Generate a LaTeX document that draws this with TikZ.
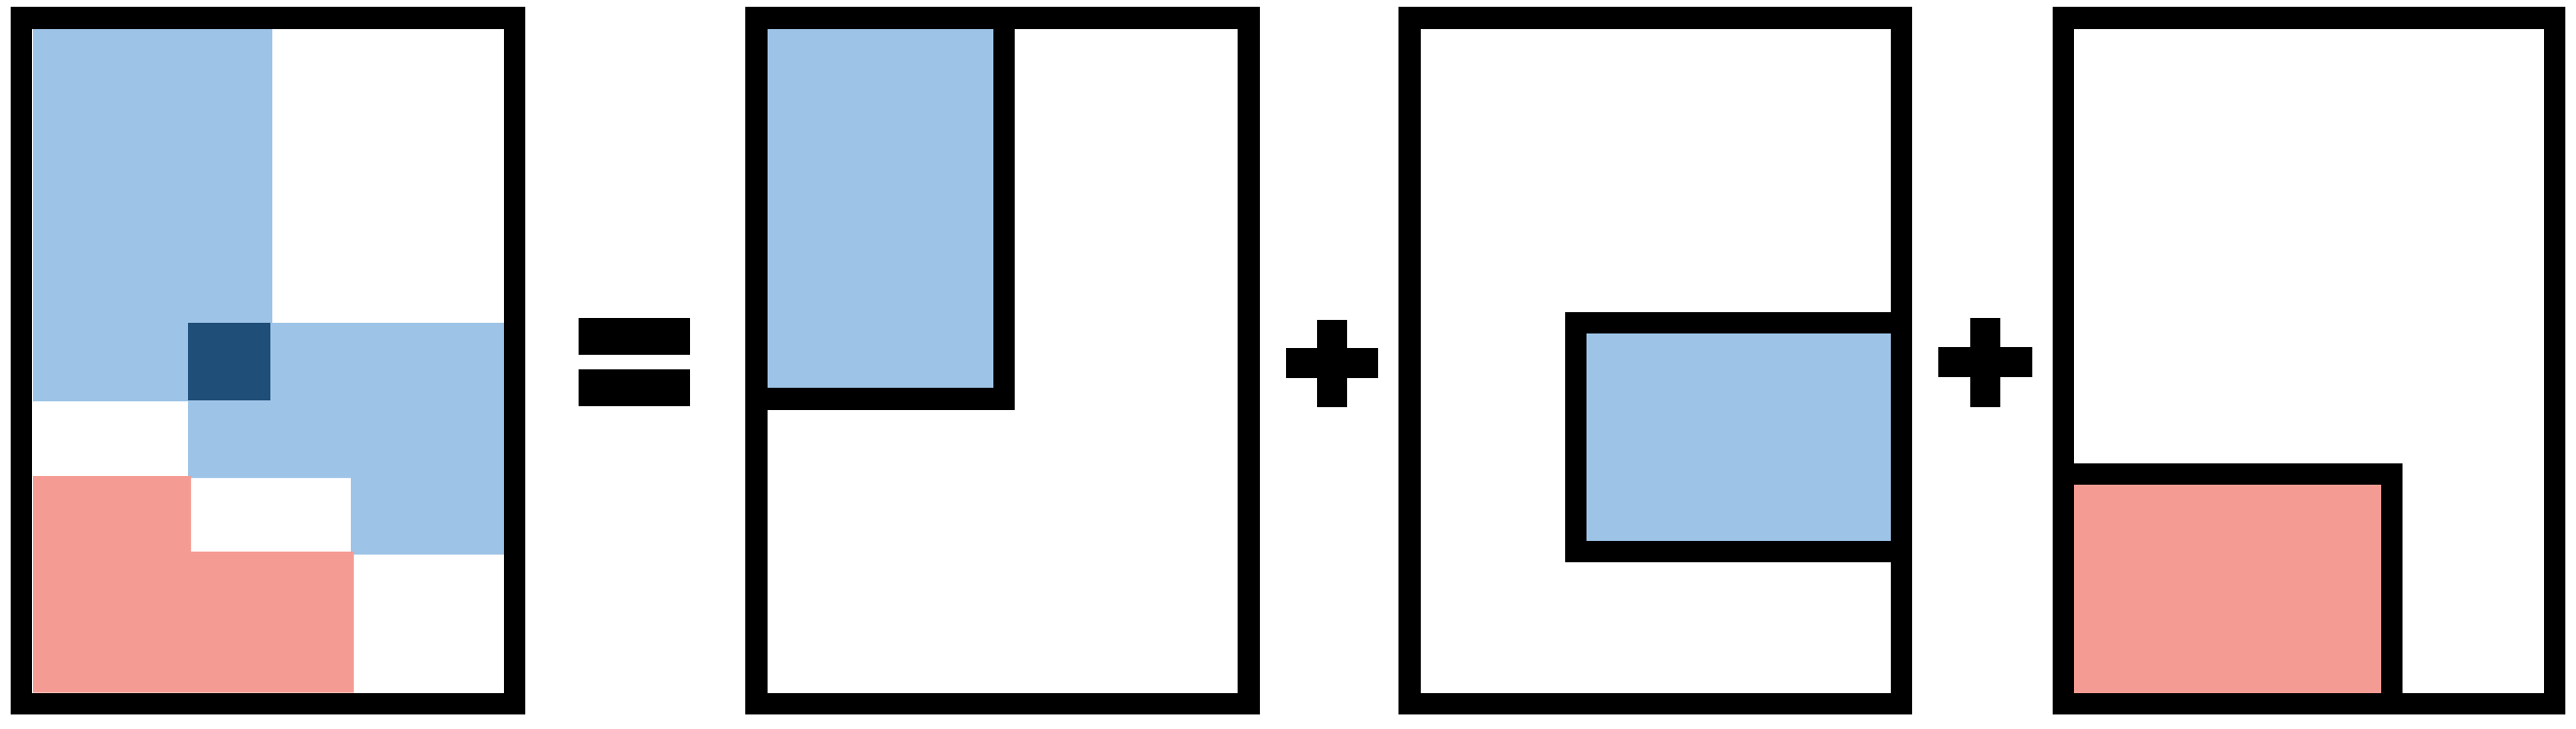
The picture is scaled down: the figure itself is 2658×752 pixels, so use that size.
\documentclass[tikz,border=0pt]{standalone}
\definecolor{lblue}{HTML}{9DC3E6}
\definecolor{dblue}{HTML}{1F4E79}
\definecolor{salmon}{HTML}{F49C94}
\tikzset{
  frame/.style={draw=black, line width=22.5pt, line join=miter},
  sym/.style={fill=black, draw=none},
}
\begin{document}
\begin{tikzpicture}[x=1pt,y=-1pt]
\useasboundingbox (0,0) rectangle (2658,752);
% ---- panel 1: combined ----
\fill[lblue] (34,30) rectangle (281,414);
\fill[lblue] (194,333) -- (520,333) -- (520,572) -- (362,572) -- (362,493) -- (194,493) -- cycle;
\fill[dblue] (194,333) rectangle (279,413);
\fill[salmon] (34,491) -- (197,491) -- (197,569) -- (365,569) -- (365,714.5) -- (34,714.5) -- cycle;
\draw[frame] (22.2,18.3) rectangle (530.8,725.8);
% ---- equals ----
\fill[sym] (597,328) rectangle (712,366);
\fill[sym] (597,381) rectangle (712,419);
% ---- panel 2 ----
\fill[lblue] (780.3,18.3) rectangle (1036.2,411.7);
\draw[frame] (780.3,18.3) rectangle (1036.2,411.7);
\draw[frame] (780.3,18.3) rectangle (1288.7,725.8);
% ---- plus 1 ----
\fill[sym] (1327,359) rectangle (1422,390);
\fill[sym] (1359,330) rectangle (1390,420);
% ---- panel 3 ----
\fill[lblue] (1626,333) rectangle (1962.2,568.8);
\draw[frame] (1626,333) rectangle (1962.2,568.8);
\draw[frame] (1454.3,18.3) rectangle (1962.2,725.8);
% ---- plus 2 ----
\fill[sym] (2000,358) rectangle (2097,389);
\fill[sym] (2033,328) rectangle (2064,420);
% ---- panel 4 ----
\fill[salmon] (2128.8,489.2) rectangle (2468.2,725.8);
\draw[frame] (2128.8,489.2) rectangle (2468.2,725.8);
\draw[frame] (2128.8,18.3) rectangle (2636.2,725.8);
\end{tikzpicture}
\end{document}
